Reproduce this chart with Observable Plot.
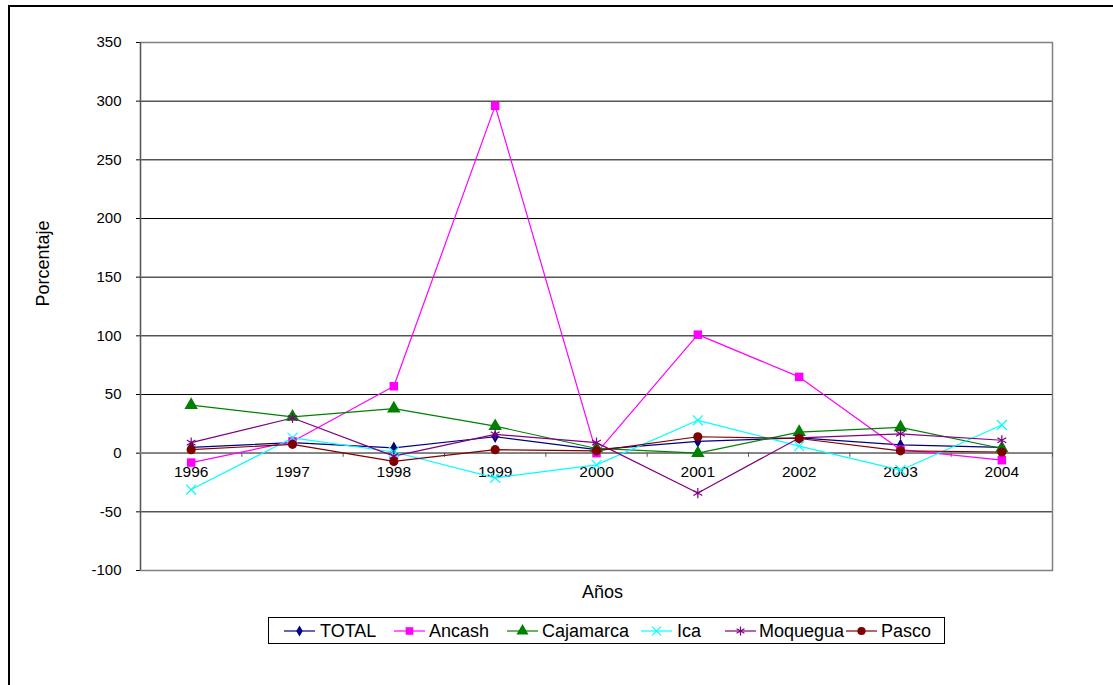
<!DOCTYPE html>
<html><head><meta charset="utf-8">
<script src="https://cdn.jsdelivr.net/npm/d3@7"></script>
<script src="https://cdn.jsdelivr.net/npm/@observablehq/plot@0.6"></script>
<style>
body{margin:0;background:#fff;font-family:Arial,"Liberation Sans",sans-serif;}
#wrap{position:relative;width:1113px;height:685px;overflow:hidden;background:#fff;}
#outer{position:absolute;left:8px;top:5px;width:1200px;height:800px;border-left:2px solid #000;border-top:2px solid #000;}
#chart{position:absolute;left:0;top:0;}
#legend{position:absolute;left:268px;top:617px;width:675px;height:25px;border:1px solid #000;background:#fff;}
.samp{position:absolute;top:5px;}
.lab{position:absolute;top:0;height:25px;line-height:26px;font-size:18px;white-space:nowrap;}
</style></head><body>
<div id="wrap"><div id="outer"></div><div id="chart"></div><div id="legend"></div></div>
<script>
// ---- data ----
const years = [1996, 1997, 1998, 1999, 2000, 2001, 2002, 2003, 2004];
const seriesNames = ["TOTAL", "Ancash", "Cajamarca", "Ica", "Moquegua", "Pasco"];
const total     = [5, 9, 4.5, 14, 3, 10, 13, 7, 5];
const ancash    = [-8, 10, 57, 296, 0, 101, 65, 3, -6];
const cajamarca = [41, 31, 38, 23, 4, 0, 18, 22, 4];
const ica       = [-31, 13, 1, -21, -10, 28, 6, -14.5, 24];
const moquegua  = [9, 30, -2.5, 16, 9, -34, 13, 16.5, 11];
const pasco     = [3, 7.5, -7, 3, 2, 14, 12.5, 2, 1];
const yTicks = [-100, -50, 0, 50, 100, 150, 200, 250, 300, 350];
const yTitle = "Porcentaje";
const xTitle = "Años";

// ---- styles ----
const seriesValues = [total, ancash, cajamarca, ica, moquegua, pasco];
const colors  = ["#000080", "#FF00FF", "#008000", "#00FFFF", "#800080", "#800000"];
const symbols = ["diamond", "square", "triangle", "times", "asterisk", "circle"];
const filled  = [true, true, true, false, false, true];
const sizes   = [3.8, 4.8, 5, 4.6, 4.8, 4.6];
const d3Sym = {diamond: d3.symbolDiamond, square: d3.symbolSquare, triangle: d3.symbolTriangle,
               times: d3.symbolTimes, asterisk: d3.symbolAsterisk, circle: d3.symbolCircle};

const rows = seriesNames.flatMap((s, k) => years.map((yr, i) => ({series: s, year: yr, value: seriesValues[k][i]})));
const edges = [years[0] - 0.5, ...years.map(y => y + 0.5)];
const tickDepth = -3.5;

const seriesMarks = [];
seriesNames.forEach((s, k) => {
  const data = rows.filter(r => r.series === s);
  seriesMarks.push(Plot.line(data, {x: "year", y: "value", stroke: colors[k], strokeWidth: 1.2}));
});
seriesNames.forEach((s, k) => {
  const data = rows.filter(r => r.series === s);
  seriesMarks.push(Plot.dot(data, filled[k]
    ? {x: "year", y: "value", symbol: () => symbols[k], r: sizes[k], fill: colors[k], stroke: "none"}
    : {x: "year", y: "value", symbol: () => symbols[k], r: sizes[k], fill: "none", stroke: colors[k], strokeWidth: 1.2}));
});

const chart = Plot.plot({
  width: 1113, height: 685,
  marginLeft: 140, marginRight: 61, marginTop: 42, marginBottom: 115,
  style: {fontFamily: "Arial, 'Liberation Sans', sans-serif", fontSize: "15px", color: "#000", background: "transparent"},
  symbol: {type: "identity"},
  x: {domain: [edges[0], edges[edges.length - 1]], axis: null},
  y: {domain: [yTicks[0], yTicks[yTicks.length - 1]], ticks: yTicks, tickSize: 4, tickPadding: 15, label: null, tickFormat: d => String(d)},
  marks: [
    Plot.ruleY(yTicks, {stroke: "#000", strokeWidth: 1}),
    Plot.frame({stroke: "#808080", strokeWidth: 1.5}),
    Plot.ruleX([edges[0]], {stroke: "#555", strokeWidth: 1.2}),
    Plot.ruleY([0], {stroke: "#808080", strokeWidth: 1.8}),
    Plot.ruleX(edges.slice(1), {x: d => d, y1: 0, y2: tickDepth, stroke: "#555"}),
    Plot.text(years, {x: d => d, y: 0, dy: 19, text: d => String(d), fontSize: 15.5, fill: "#000"}),
    ...seriesMarks,
    Plot.text([yTitle], {frameAnchor: "left", dx: -97, rotate: -90, fontSize: 18, fill: "#000"}),
    Plot.text([xTitle], {frameAnchor: "bottom", dy: 22, dx: 6, lineAnchor: "middle", fontSize: 18, fill: "#000"})
  ]
});
document.getElementById("chart").appendChild(chart);

// ---- legend ----
const legend = document.getElementById("legend");
const sampX = [15, 125, 238, 372, 456, 577];
const labX  = [51, 160, 273, 408, 490, 612];
seriesNames.forEach((s, k) => {
  const sym = d3.symbol(d3Sym[symbols[k]], Math.PI * sizes[k] * sizes[k] * 0.8)();
  const svg = `<svg class="samp" style="left:${sampX[k]}px" width="31" height="16" viewBox="0 0 31 16">
    <line x1="0" y1="8" x2="31" y2="8" stroke="${colors[k]}" stroke-width="1.2"/>
    <path transform="translate(15.5,8)" d="${sym}" fill="${filled[k] ? colors[k] : 'none'}" stroke="${filled[k] ? 'none' : colors[k]}" stroke-width="1.2"/></svg>`;
  legend.insertAdjacentHTML("beforeend", svg + `<span class="lab" style="left:${labX[k]}px">${s}</span>`);
});
</script>
</body></html>
